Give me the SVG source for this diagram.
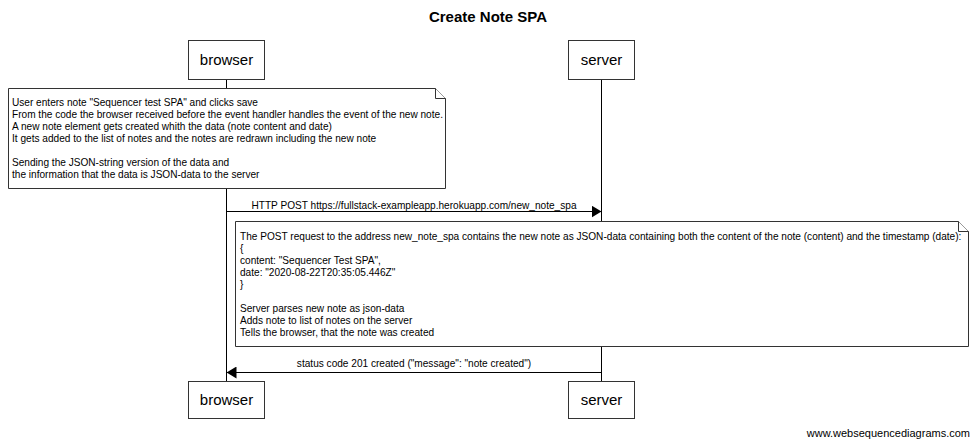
<svg xmlns="http://www.w3.org/2000/svg" width="975" height="444" viewBox="0 0 975 444">
<style>
.box{fill:#fff;stroke:#333;stroke-width:1}
.note{fill:#fff;stroke:#333;stroke-width:1}
.life{stroke:#000;stroke-width:1;fill:none}
.msg{stroke:#000;stroke-width:1;fill:none}
.pl{font-family:"Liberation Sans",Arial,sans-serif;font-size:15px;fill:#000;text-anchor:middle}
.nt{font-family:"Liberation Sans",Arial,sans-serif;font-size:10.1px;fill:#000}
.ml{font-family:"Liberation Sans",Arial,sans-serif;font-size:10.1px;fill:#000;text-anchor:middle}
</style>
<defs>
<marker id="ah" viewBox="0 0 10 12" refX="10" refY="6" markerWidth="10" markerHeight="12" markerUnits="userSpaceOnUse" orient="auto">
<path d="M0,0 L10,6 L0,12 z" fill="#000"/>
</marker>
</defs>
<rect width="975" height="444" fill="#fff"/>
<text x="488" y="22" font-family="Liberation Sans,Arial,sans-serif" font-size="15" font-weight="bold" text-anchor="middle">Create Note SPA</text>

<g id="lifelines">
<line class="life" x1="226.5" y1="79" x2="226.5" y2="381"/>
<line class="life" x1="601.5" y1="79" x2="601.5" y2="381"/>
</g>

<g id="browser-top"><rect class="box" x="188.5" y="40.5" width="76" height="39"/><text class="pl" x="226.5" y="65">browser</text></g>
<g id="server-top"><rect class="box" x="568.5" y="40.5" width="66" height="39"/><text class="pl" x="601.5" y="65">server</text></g>
<g id="browser-bottom"><rect class="box" x="188.5" y="381.5" width="76" height="37"/><text class="pl" x="226.5" y="405">browser</text></g>
<g id="server-bottom"><rect class="box" x="568.5" y="381.5" width="66" height="37"/><text class="pl" x="601.5" y="405">server</text></g>

<g id="note1">
<path class="note" d="M8.5,88.5 H435.5 L445.5,98.5 V188.5 H8.5 Z"/>
<path class="note" d="M435.5,88.5 V98.5 H445.5" fill="none"/>
<text class="nt" x="12" y="106">User enters note "Sequencer test SPA" and clicks save</text>
<text class="nt" x="12" y="118">From the code the browser received before the event handler handles the event of the new note.</text>
<text class="nt" x="12" y="130">A new note element gets created whith the data (note content and date)</text>
<text class="nt" x="12" y="142">It gets added to the list of notes and the notes are redrawn including the new note</text>
<text class="nt" x="12" y="166">Sending the JSON-string version of the data and</text>
<text class="nt" x="12" y="178">the information that the data is JSON-data to the server</text>
</g>

<g id="note2">
<path class="note" d="M235.5,221.5 H958.5 L968.5,231.5 V346.5 H235.5 Z"/>
<path class="note" d="M958.5,221.5 V231.5 H968.5" fill="none"/>
<text class="nt" x="240" y="240">The POST request to the address new_note_spa contains the new note as JSON-data containing both the content of the note (content) and the timestamp (date):</text>
<text class="nt" x="240" y="252">{</text>
<text class="nt" x="240" y="264">content: "Sequencer Test SPA",</text>
<text class="nt" x="240" y="276">date: "2020-08-22T20:35:05.446Z"</text>
<text class="nt" x="240" y="288">}</text>
<text class="nt" x="240" y="312">Server parses new note as json-data</text>
<text class="nt" x="240" y="324">Adds note to list of notes on the server</text>
<text class="nt" x="240" y="336">Tells the browser, that the note was created</text>
</g>

<g id="connectors">
<line class="msg" x1="226.5" y1="211.5" x2="601.5" y2="211.5" marker-end="url(#ah)"/>
<text class="ml" x="414" y="209">HTTP POST https://fullstack-exampleapp.herokuapp.com/new_note_spa</text>
<line class="msg" x1="601.5" y1="372.5" x2="226.5" y2="372.5" marker-end="url(#ah)"/>
<text class="ml" x="414" y="367">status code 201 created ("message": "note created")</text>
</g>

<text x="970" y="437" font-family="Liberation Sans,Arial,sans-serif" font-size="11" text-anchor="end">www.websequencediagrams.com</text>
</svg>
